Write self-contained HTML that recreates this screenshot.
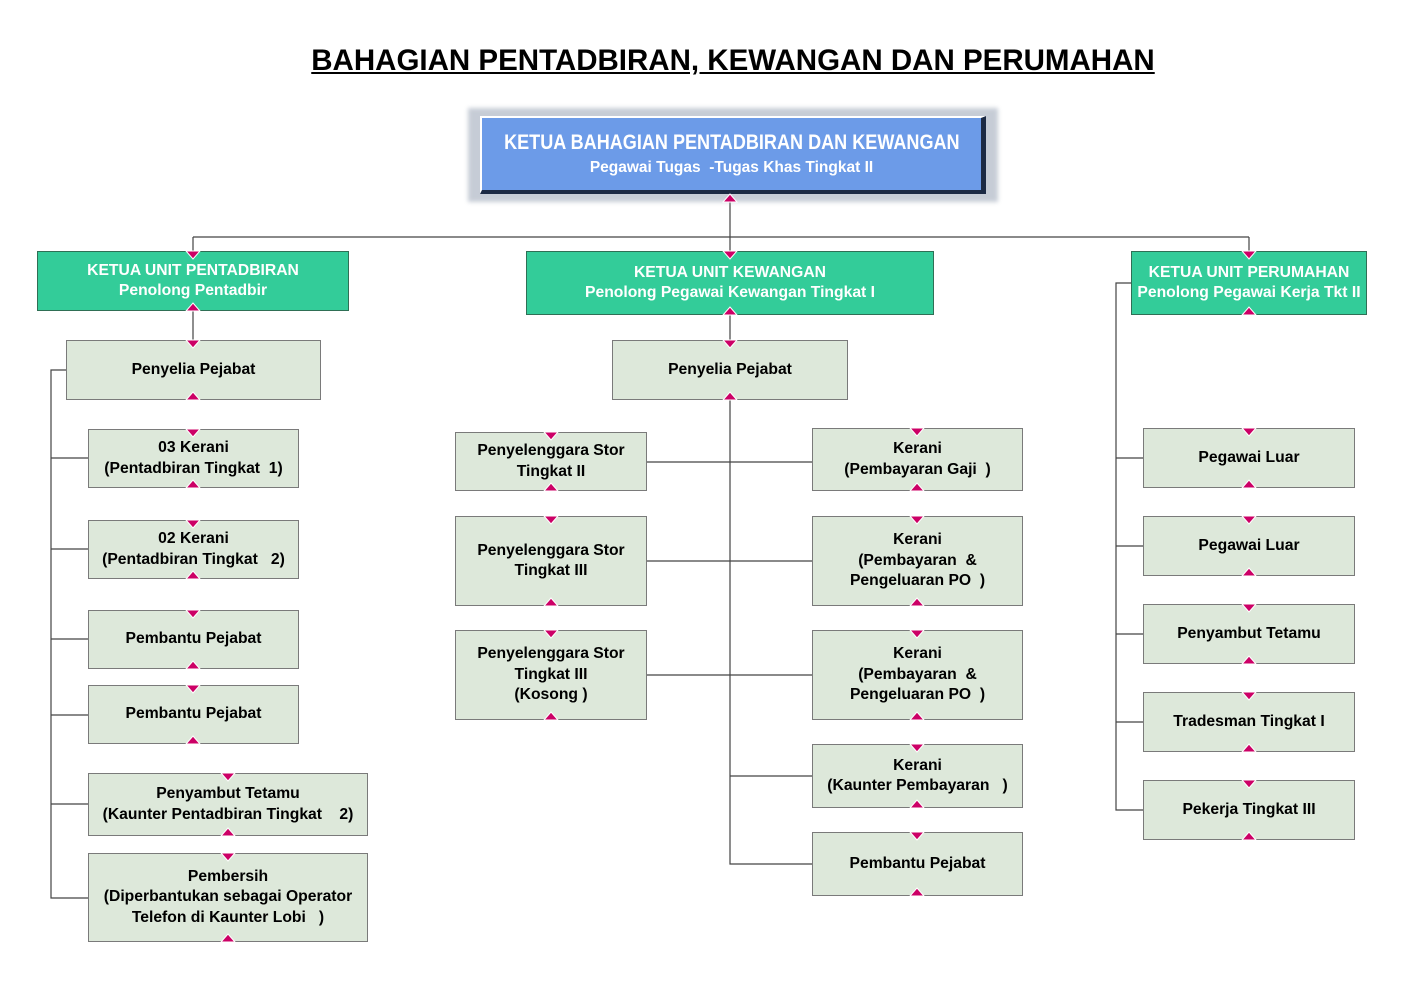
<!DOCTYPE html>
<html><head><meta charset="utf-8"><style>
body{margin:0;width:1404px;height:993px;background:#fff;position:relative;overflow:hidden;font-family:"Liberation Sans",Arial,sans-serif}
.b{position:absolute;box-sizing:border-box;display:flex;align-items:center;justify-content:center;text-align:center;font-weight:bold;font-size:15.7px;line-height:20.5px;white-space:pre}
.g{background:#dde8da;border:1px solid #7a7a7a;color:#000}
.t{background:#33cc99;border:1px solid #2f6f55;color:#fff}
svg{position:absolute;left:0;top:0}
</style></head><body>
<div style="position:absolute;left:293px;top:44px;width:880px;text-align:center;font-size:29.5px;font-weight:bold;text-decoration:underline;color:#000">BAHAGIAN PENTADBIRAN, KEWANGAN DAN PERUMAHAN</div>
<svg width="1404" height="993">
<g stroke="#444" stroke-width="1.2" fill="none">
<path d="M730 194V251M193 237H1249M193 237V251M1249 237V251M193 311V340M730 315V340"/>
<path d="M66 370H51V898H88M51 458H88M51 549H88M51 639H88M51 715H88M51 804H88"/>
<path d="M730 400V864H812M647 462H812M647 561H812M647 675H812M730 776H812"/>
<path d="M1131 283H1116V810H1143M1116 458H1143M1116 546H1143M1116 634H1143M1116 722H1143"/>
</g>
<rect x="468" y="108" width="530" height="94" fill="#b8c0cc" opacity="0.8" filter="blur(2px)"/>
</svg>
<div class="b" style="left:480px;top:116px;width:506px;height:78px;background:#6c9be8;border:2px solid #fff;border-right:5px solid #1c2a44;border-bottom:4px solid #1c2a44;color:#fff;flex-direction:column;font-size:15.5px;line-height:22px"><span style="display:inline-block;font-size:21px;line-height:28px;transform:scaleX(0.86)">KETUA BAHAGIAN PENTADBIRAN DAN KEWANGAN</span>Pegawai Tugas  -Tugas Khas Tingkat II</div>

<div class="b t" style="left:37px;top:251px;width:312px;height:60px">KETUA UNIT PENTADBIRAN
Penolong Pentadbir</div>
<div class="b t" style="left:526px;top:251px;width:408px;height:64px">KETUA UNIT KEWANGAN
Penolong Pegawai Kewangan Tingkat I</div>
<div class="b t" style="left:1131px;top:251px;width:236px;height:64px">KETUA UNIT PERUMAHAN
Penolong Pegawai Kerja Tkt II</div>

<div class="b g" style="left:66px;top:340px;width:255px;height:60px">Penyelia Pejabat</div>
<div class="b g" style="left:88px;top:429px;width:211px;height:59px">03 Kerani
(Pentadbiran Tingkat  1)</div>
<div class="b g" style="left:88px;top:520px;width:211px;height:59px">02 Kerani
(Pentadbiran Tingkat   2)</div>
<div class="b g" style="left:88px;top:610px;width:211px;height:59px">Pembantu Pejabat</div>
<div class="b g" style="left:88px;top:685px;width:211px;height:59px">Pembantu Pejabat</div>
<div class="b g" style="left:88px;top:773px;width:280px;height:63px">Penyambut Tetamu
(Kaunter Pentadbiran Tingkat    2)</div>
<div class="b g" style="left:88px;top:853px;width:280px;height:89px">Pembersih
(Diperbantukan sebagai Operator
Telefon di Kaunter Lobi   )</div>

<div class="b g" style="left:612px;top:340px;width:236px;height:60px">Penyelia Pejabat</div>
<div class="b g" style="left:455px;top:432px;width:192px;height:59px">Penyelenggara Stor
Tingkat II</div>
<div class="b g" style="left:455px;top:516px;width:192px;height:90px">Penyelenggara Stor
Tingkat III</div>
<div class="b g" style="left:455px;top:630px;width:192px;height:90px">Penyelenggara Stor
Tingkat III
(Kosong )</div>
<div class="b g" style="left:812px;top:428px;width:211px;height:63px">Kerani
(Pembayaran Gaji  )</div>
<div class="b g" style="left:812px;top:516px;width:211px;height:90px">Kerani
(Pembayaran  &amp;
Pengeluaran PO  )</div>
<div class="b g" style="left:812px;top:630px;width:211px;height:90px">Kerani
(Pembayaran  &amp;
Pengeluaran PO  )</div>
<div class="b g" style="left:812px;top:744px;width:211px;height:64px">Kerani
(Kaunter Pembayaran   )</div>
<div class="b g" style="left:812px;top:832px;width:211px;height:64px">Pembantu Pejabat</div>

<div class="b g" style="left:1143px;top:428px;width:212px;height:60px">Pegawai Luar</div>
<div class="b g" style="left:1143px;top:516px;width:212px;height:60px">Pegawai Luar</div>
<div class="b g" style="left:1143px;top:604px;width:212px;height:60px">Penyambut Tetamu</div>
<div class="b g" style="left:1143px;top:692px;width:212px;height:60px">Tradesman Tingkat I</div>
<div class="b g" style="left:1143px;top:780px;width:212px;height:60px">Pekerja Tingkat III</div>

<svg width="1404" height="993" style="pointer-events:none">
<defs>
<path id="d" d="M-7 0H7L0 8Z" fill="#cc0066" stroke="#fff" stroke-width="1"/>
<path id="u" d="M-7 0H7L0 -8Z" fill="#cc0066" stroke="#fff" stroke-width="1"/>
</defs>
<use href="#u" x="730" y="202"/>
<use href="#d" x="193" y="251"/><use href="#u" x="193" y="311"/>
<use href="#d" x="730" y="251"/><use href="#u" x="730" y="315"/>
<use href="#d" x="1249" y="251"/><use href="#u" x="1249" y="315"/>
<use href="#d" x="193" y="340"/><use href="#u" x="193" y="400"/>
<use href="#d" x="193" y="429"/><use href="#u" x="193" y="488"/>
<use href="#d" x="193" y="520"/><use href="#u" x="193" y="579"/>
<use href="#d" x="193" y="610"/><use href="#u" x="193" y="669"/>
<use href="#d" x="193" y="685"/><use href="#u" x="193" y="744"/>
<use href="#d" x="228" y="773"/><use href="#u" x="228" y="836"/>
<use href="#d" x="228" y="853"/><use href="#u" x="228" y="942"/>
<use href="#d" x="730" y="340"/><use href="#u" x="730" y="400"/>
<use href="#d" x="551" y="432"/><use href="#u" x="551" y="491"/>
<use href="#d" x="551" y="516"/><use href="#u" x="551" y="606"/>
<use href="#d" x="551" y="630"/><use href="#u" x="551" y="720"/>
<use href="#d" x="917" y="428"/><use href="#u" x="917" y="491"/>
<use href="#d" x="917" y="516"/><use href="#u" x="917" y="606"/>
<use href="#d" x="917" y="630"/><use href="#u" x="917" y="720"/>
<use href="#d" x="917" y="744"/><use href="#u" x="917" y="808"/>
<use href="#d" x="917" y="832"/><use href="#u" x="917" y="896"/>
<use href="#d" x="1249" y="428"/><use href="#u" x="1249" y="488"/>
<use href="#d" x="1249" y="516"/><use href="#u" x="1249" y="576"/>
<use href="#d" x="1249" y="604"/><use href="#u" x="1249" y="664"/>
<use href="#d" x="1249" y="692"/><use href="#u" x="1249" y="752"/>
<use href="#d" x="1249" y="780"/><use href="#u" x="1249" y="840"/>
</svg>
</body></html>
